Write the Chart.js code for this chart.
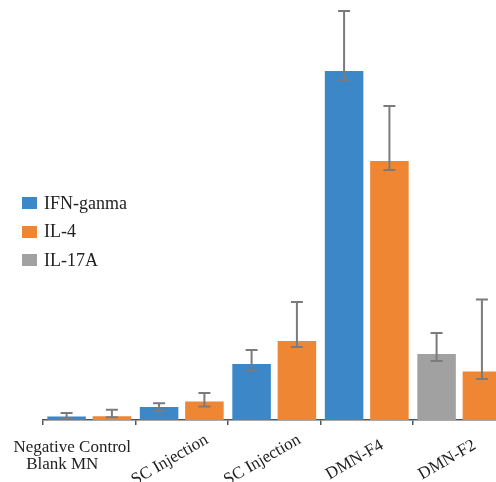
<!DOCTYPE html>
<html>
<head>
<meta charset="utf-8">
<script src="https://cdn.jsdelivr.net/npm/chart.js@4.4.0/dist/chart.umd.min.js"></script>
<style>
  html, body { margin: 0; padding: 0; background: #fff; overflow: hidden; }
  #wrap { position: relative; width: 510px; height: 482px; }
  #legend { position: absolute; left: 22px; top: 189px; font-family: "Liberation Serif", serif; font-size: 18px; color: #222; }
  #legend .item { display: flex; align-items: center; height: 28.5px; }
  #legend .box { width: 15px; height: 12px; margin-right: 7px; }
</style>
</head>
<body>
<div id="wrap">
  <canvas id="chart" width="510" height="482"></canvas>
  <div id="legend"></div>
</div>
<script>
const categories = [["Negative Control", "Blank MN"], "SC Injection", "SC Injection", "DMN-F4", "DMN-F2"];

const ifnGanma = [0.35, 1.3, 5.6, 34.9, null];
const ifnPlus = [0.35, 0.37, 1.4, 6.0, null];
const ifnMinus = [0.15, 0.4, 0.65, 0.9, null];

const il4 = [0.37, 1.85, 7.9, 25.9, 4.85];
const il4Plus = [0.65, 0.85, 3.9, 5.5, 7.2];
const il4Minus = [0.1, 0.5, 0.6, 0.9, 0.75];

const il17a = [null, null, null, null, 6.6];
const il17aPlus = [null, null, null, null, 2.1];
const il17aMinus = [null, null, null, null, 0.7];

const BLUE = "#3b87c8";
const ORANGE = "#ee8633";
const GRAY = "#a1a1a1";
const FONT = "'Liberation Serif', 'Times New Roman', serif";

// legend order differs from drawing order (gray sits before orange in DMN-F2)
const legendItems = [
  { label: "IFN-ganma", color: BLUE },
  { label: "IL-4", color: ORANGE },
  { label: "IL-17A", color: GRAY },
];

const legendEl = document.getElementById("legend");
legendItems.forEach(({ label, color }) => {
  const row = document.createElement("div");
  row.className = "item";
  row.innerHTML = `<span class="box" style="background:${color}"></span><span>${label}</span>`;
  legendEl.appendChild(row);
});

const errorBars = {
  id: "errorBars",
  afterDatasetsDraw(chart) {
    const { ctx, scales: { y } } = chart;
    ctx.save();
    ctx.strokeStyle = "#7b7b7b";
    ctx.lineWidth = 2;
    chart.data.datasets.forEach((ds, i) => {
      const meta = chart.getDatasetMeta(i);
      ds.data.forEach((v, j) => {
        if (v == null) return;
        const x = meta.data[j].x;
        const top = y.getPixelForValue(v + ds.errPlus[j]);
        const bot = y.getPixelForValue(v - ds.errMinus[j]);
        ctx.beginPath();
        ctx.moveTo(x, top);
        ctx.lineTo(x, bot);
        ctx.moveTo(x - 6, top);
        ctx.lineTo(x + 6, top);
        ctx.moveTo(x - 6, bot);
        ctx.lineTo(x + 6, bot);
        ctx.stroke();
      });
    });
    ctx.restore();
  },
};

const xLabels = {
  id: "xLabels",
  afterDraw(chart) {
    const { ctx, scales: { x } } = chart;
    ctx.save();
    ctx.fillStyle = "#222";
    ctx.font = `17px ${FONT}`;
    categories.forEach((label, j) => {
      const cx = x.getPixelForValue(j);
      if (Array.isArray(label)) {
        ctx.textAlign = "center";
        ctx.textBaseline = "alphabetic";
        ctx.fillText(label[0], cx - 17, 452);
        ctx.fillText(label[1], cx - 27, 469);
      } else {
        ctx.translate(cx - 12, 460);
        ctx.rotate(-Math.PI / 6);
        ctx.textAlign = "center";
        ctx.textBaseline = "middle";
        ctx.fillText(label, 0, 0);
        ctx.setTransform(1, 0, 0, 1, 0, 0);
      }
    });
    ctx.restore();
  },
};

new Chart(document.getElementById("chart"), {
  type: "bar",
  data: {
    labels: categories,
    datasets: [
      { label: "IFN-ganma", data: ifnGanma, errPlus: ifnPlus, errMinus: ifnMinus, backgroundColor: BLUE },
      { label: "IL-17A", data: il17a, errPlus: il17aPlus, errMinus: il17aMinus, backgroundColor: GRAY },
      { label: "IL-4", data: il4, errPlus: il4Plus, errMinus: il4Minus, backgroundColor: ORANGE },
    ],
  },
  options: {
    responsive: false,
    animation: false,
    devicePixelRatio: 1,
    skipNull: true,
    categoryPercentage: 0.98,
    barPercentage: 0.85,
    layout: { padding: { left: 43, right: 4.5, top: 0, bottom: 57 } },
    plugins: {
      legend: { display: false },
      tooltip: { enabled: false },
    },
    scales: {
      x: {
        grid: {
          offset: true,
          drawOnChartArea: false,
          drawTicks: true,
          tickLength: 5,
          color: "#555",
          lineWidth: 1.5,
        },
        border: { color: "#555", width: 1.5 },
        ticks: { display: false },
      },
      y: {
        display: false,
        min: 0,
        max: 42,
      },
    },
  },
  plugins: [errorBars, xLabels],
});
</script>
</body>
</html>
